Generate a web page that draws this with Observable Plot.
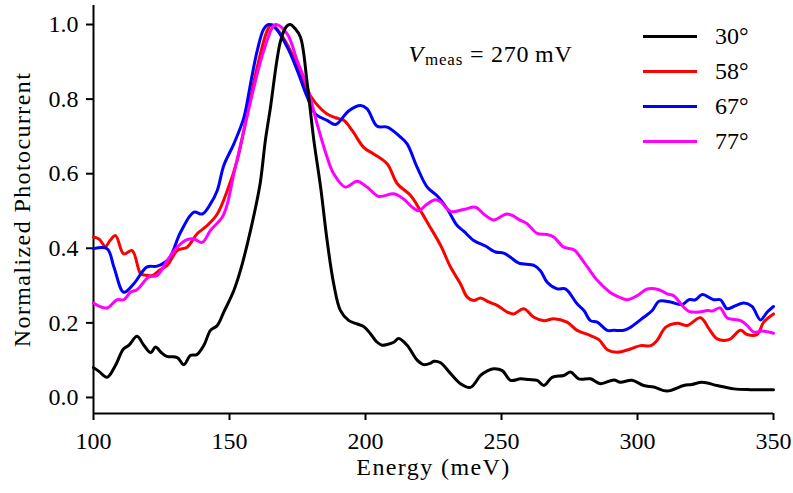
<!DOCTYPE html>
<html><head><meta charset="utf-8">
<script src="https://cdn.jsdelivr.net/npm/d3@7"></script>
<script src="https://cdn.jsdelivr.net/npm/@observablehq/plot@0.6"></script>
<style>
html,body{margin:0;padding:0;background:#fff;}
#wrap{position:relative;width:793px;height:493px;}
#chart svg{font-family:"Liberation Serif","Times New Roman",serif;}
#legend{position:absolute;left:643px;top:19px;font-family:"Liberation Serif","Times New Roman",serif;font-size:24px;color:#000;}
.row{display:flex;align-items:center;height:35px;}
.sw{width:54px;height:3px;margin-right:18px;}
</style></head><body><div id="wrap"><div id="chart"></div><div id="legend"></div></div>
<script>
// ---- data ----
const xTicks = [100, 150, 200, 250, 300, 350];
const yTicks = [0.0, 0.2, 0.4, 0.6, 0.8, 1.0];
const seriesNames = ["30°", "58°", "67°", "77°"];
const seriesColors = ["#000000", "#ff0000", "#0000ff", "#ff00ff"];

const e30 = [100,102,105,108,111,113,116,118.5,121,122.8,125,127,130.8,133.2,135.7,138,140.6,143,145.5,147.9,151.6,154,156.5,159.6,161.4,163.2,165,168.8,171,172.4,174,176.1,178.6,181,183.5,185.9,188.3,190.8,193.9,197,199.3,201.8,204,206.1,208,210.4,212.2,215.3,219,221.4,223.9,225.1,227.6,231.3,234.9,238.6,242.3,245,247.2,250.3,253.3,257,260,263.1,265.6,268.6,272.9,275.4,278.4,282.7,286.4,291.3,293.7,298,302.3,306,310.9,317,320,323.8,329.3,335.4,341.5,345,350];
const v30 = [0.08,0.07,0.054,0.085,0.13,0.14,0.164,0.14,0.12,0.135,0.12,0.11,0.107,0.088,0.113,0.115,0.14,0.18,0.193,0.229,0.287,0.34,0.41,0.51,0.58,0.69,0.775,0.957,0.995,1.0,0.99,0.966,0.84,0.69,0.564,0.42,0.305,0.233,0.206,0.197,0.19,0.171,0.15,0.14,0.142,0.148,0.158,0.14,0.1,0.088,0.092,0.097,0.093,0.064,0.037,0.027,0.059,0.072,0.077,0.072,0.046,0.05,0.048,0.046,0.032,0.054,0.059,0.068,0.05,0.05,0.037,0.047,0.041,0.046,0.032,0.028,0.017,0.032,0.035,0.041,0.032,0.023,0.021,0.021,0.021];

const e58 = [100,102,104.4,106,108.1,111.1,114.2,117.3,119,121.6,124,127.1,130.8,134.4,138.1,141.8,145.5,149.2,152.8,156.5,160.2,163.9,165.5,168.8,172.4,176.1,178.6,181.6,185.9,189,192,195.1,199.4,203,208,211.7,216.5,220.2,223.5,227.6,231.3,234.9,237.4,239.8,242.3,245.3,248.4,252.1,254.5,258.2,261.9,265.6,269.2,274.1,277.8,282.7,285.8,288.9,292.5,297.4,301.1,304.8,307.2,310.3,314.6,318.3,323.2,326.3,329.3,333.6,337.9,340.3,344,346.4,350];
const v58 = [0.43,0.425,0.405,0.42,0.434,0.385,0.394,0.332,0.328,0.327,0.34,0.354,0.394,0.403,0.439,0.461,0.492,0.555,0.635,0.76,0.886,0.984,1.0,0.975,0.93,0.868,0.823,0.79,0.76,0.75,0.743,0.716,0.67,0.653,0.626,0.573,0.542,0.501,0.46,0.408,0.349,0.305,0.269,0.26,0.267,0.256,0.247,0.229,0.224,0.238,0.215,0.206,0.211,0.202,0.18,0.166,0.155,0.128,0.121,0.13,0.139,0.139,0.153,0.188,0.199,0.193,0.214,0.184,0.157,0.155,0.18,0.169,0.169,0.202,0.224];

const e67 = [100,105,107.5,111.1,114.8,119.7,123.4,127.7,132,136.9,140,143,145.5,147.9,151.6,155.3,157.7,160.2,162.6,164.4,166.9,171.2,174.9,178.6,181.6,185.9,189,193.9,198.2,200.6,204.3,208,212.9,215.3,219,222.7,226.4,230,233.7,236.1,239.8,244.1,247.8,250.8,253.3,256.4,261.9,264.3,266.8,270.5,273.5,277.8,280.3,282.7,285.2,288.9,291.3,295,297.4,302.3,305.4,307.9,312.1,316.4,318.9,321.3,323.8,328,330.5,332.9,335.4,339.1,342.1,345.2,347.7,350];
const v67 = [0.399,0.399,0.35,0.282,0.305,0.35,0.352,0.372,0.443,0.497,0.492,0.519,0.555,0.622,0.68,0.751,0.84,0.93,0.988,1.0,0.99,0.94,0.877,0.805,0.76,0.743,0.732,0.769,0.783,0.774,0.727,0.725,0.698,0.68,0.617,0.564,0.54,0.506,0.461,0.446,0.421,0.406,0.39,0.387,0.376,0.36,0.354,0.34,0.309,0.291,0.291,0.251,0.233,0.206,0.202,0.18,0.18,0.18,0.188,0.215,0.233,0.258,0.256,0.249,0.262,0.262,0.276,0.262,0.262,0.238,0.244,0.253,0.244,0.208,0.229,0.244];

const e77 = [100,102,105,108.7,111.1,113.6,116,120.3,123.4,127.1,130.8,134.4,136.9,140,143,147.3,149.2,151.6,155.3,159,162.6,166.9,171.2,174.9,178.6,182.2,185.9,188.3,192.6,196.9,200.6,204.9,210.4,214,217.2,219.6,222.7,225.7,227.6,231.3,236.1,240.4,244.1,247.2,252.1,257,259.4,263.1,266.8,269.2,272.9,276.6,280.3,285.2,290.1,293,296.2,299.9,303.6,307.9,310.9,313.3,317,318.9,322.6,325.7,327.5,330.4,332.9,337.9,340.3,342.8,345.8,350];
const v77 = [0.253,0.245,0.24,0.262,0.262,0.282,0.289,0.323,0.327,0.367,0.403,0.423,0.425,0.416,0.448,0.483,0.519,0.6,0.716,0.832,0.93,1.0,0.975,0.903,0.832,0.734,0.644,0.6,0.564,0.58,0.564,0.539,0.546,0.532,0.51,0.501,0.519,0.53,0.525,0.499,0.504,0.51,0.488,0.476,0.492,0.475,0.466,0.44,0.437,0.43,0.403,0.396,0.363,0.314,0.281,0.27,0.262,0.273,0.291,0.289,0.278,0.273,0.242,0.231,0.229,0.233,0.232,0.24,0.214,0.206,0.193,0.175,0.178,0.172];

// ---- layout constants ----
const xDomain = [100, 350];
const yDomain = [-0.043, 1.051];
const annot = {e: 215.8, v: 0.899};

// build table; draw order: 58, 67, 77, then 30 on top
const rows = [];
const add = (name, es, vs) => es.forEach((e, i) => rows.push({s: name, e, v: vs[i]}));
add("58°", e58, v58);
add("67°", e67, v67);
add("77°", e77, v77);
add("30°", e30, v30);

const font = "Liberation Serif, Times New Roman, serif";

const svg = Plot.plot({
  width: 793, height: 493,
  marginLeft: 93, marginRight: 20, marginTop: 5, marginBottom: 80,
  x: {domain: xDomain},
  y: {domain: yDomain},
  color: {domain: seriesNames, range: seriesColors},
  style: {fontFamily: font, fontSize: "24px", color: "black", background: "white", overflow: "visible"},
  marks: [
    Plot.axisX({ticks: xTicks, tickSize: 7, tickPadding: 11, tickFormat: d => String(d), strokeWidth: 2, label: null, fontSize: 24}),
    Plot.axisY({ticks: yTicks, tickSize: 7, tickPadding: 8, tickFormat: d3.format(".1f"), strokeWidth: 2, label: null, fontSize: 24}),
    Plot.ruleX([xDomain[0]], {strokeWidth: 2}),
    Plot.ruleY([yDomain[0]], {strokeWidth: 2}),
    Plot.line(rows, {x: "e", y: "v", z: "s", stroke: "s", strokeWidth: 3, curve: "catmull-rom"}),
    Plot.text(["Energy (meV)"], {frameAnchor: "bottom", dy: 61, fontSize: 24, text: d => d, textAnchor: "middle"}),
    Plot.text(["Normalized Photocurrent"], {frameAnchor: "left", dx: -71, rotate: -90, fontSize: 24, text: d => d, textAnchor: "middle"}),
    Plot.text([annot], {x: "e", y: "v", text: () => "V", textAnchor: "start", lineAnchor: "bottom", fontSize: 24})
  ]
});
document.getElementById("chart").appendChild(svg);

// wider letter spacing for word labels (closer to the reference's TeX font)
d3.select(svg).selectAll("text")
  .filter(function() { const s = this.textContent; return s === "Energy (meV)" || s === "Normalized Photocurrent"; })
  .style("letter-spacing", "1.4px");

// rich-text annotation: V_meas = 270 mV
const vt = d3.select(svg).selectAll("text").filter(function() { return this.textContent === "V"; });
vt.text(null).style("letter-spacing", "0.8px");
vt.append("tspan").attr("font-style", "italic").text("V");
vt.append("tspan").attr("font-size", "17px").attr("dy", "3").attr("dx", "1").text("meas");
vt.append("tspan").attr("dy", "-3").text(" = 270\u2009mV");

// legend
const leg = d3.select("#legend");
seriesNames.forEach((n, i) => {
  const r = leg.append("div").attr("class", "row");
  r.append("div").attr("class", "sw").style("background", seriesColors[i]);
  r.append("span").text(n);
});
</script></body></html>
